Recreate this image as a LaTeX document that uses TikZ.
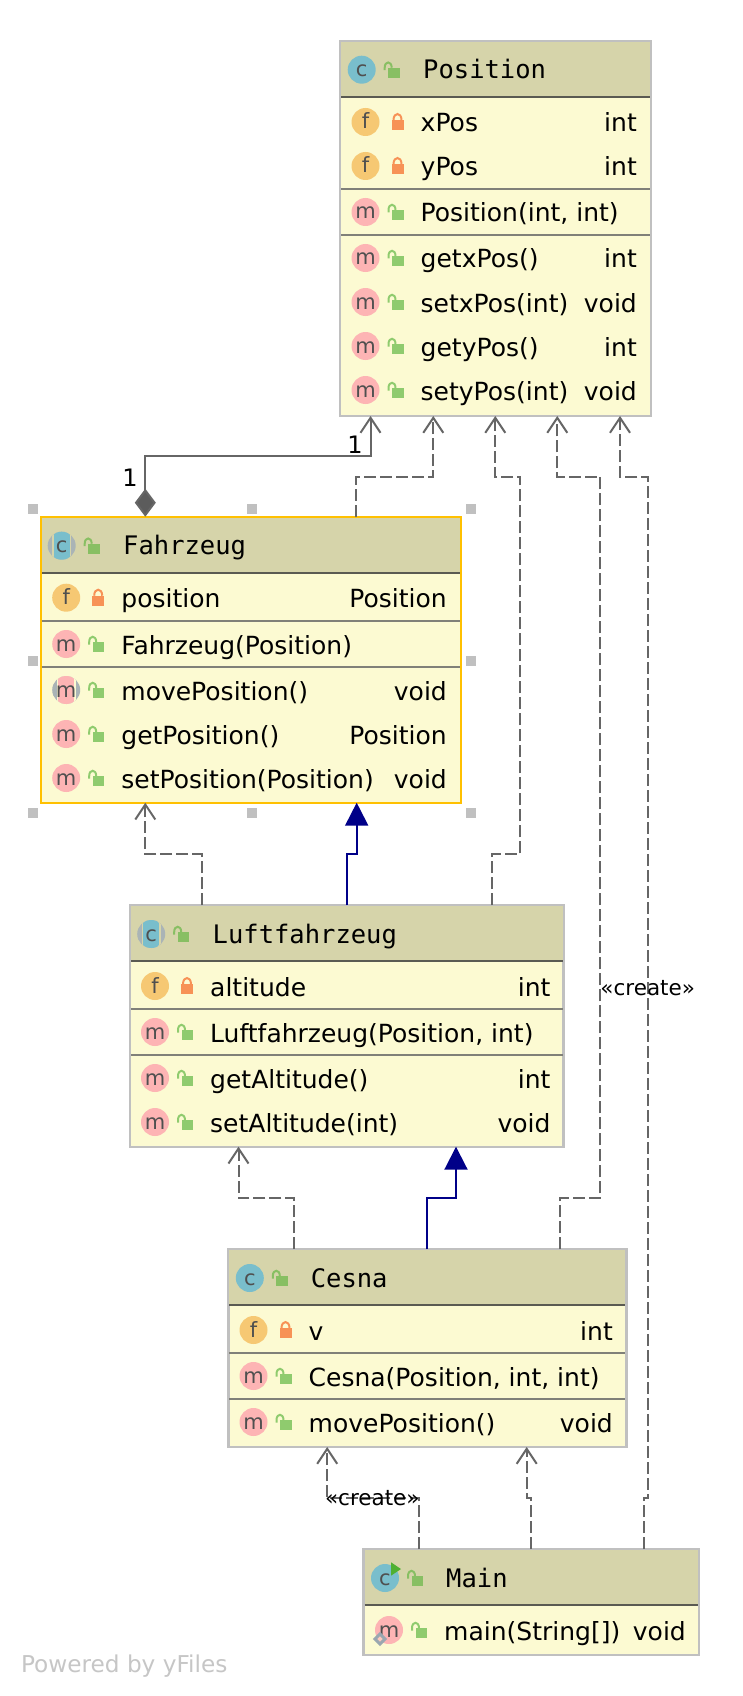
\documentclass[tikz,border=0pt]{standalone}
\usepackage{fontspec}
\usetikzlibrary{arrows.meta}
\setmainfont{DejaVu Sans}
\newfontfamily\hdrfont{DejaVu Sans Mono}
\newfontfamily\icofont{DejaVu Sans}
\definecolor{hdrfill}{HTML}{D6D4AA}
\definecolor{bodyfill}{HTML}{FCFAD2}
\definecolor{boxline}{HTML}{C0C0C0}
\definecolor{selline}{HTML}{FFC000}
\definecolor{hsep}{HTML}{5A5A52}
\definecolor{rsep}{HTML}{808078}
\definecolor{edge}{HTML}{666666}
\definecolor{navyedge}{HTML}{000088}
\definecolor{cicon}{HTML}{79BECC}
\definecolor{ficon}{HTML}{F6C873}
\definecolor{micon}{HTML}{FDB4B4}
\definecolor{absring}{HTML}{AAB4B6}
\definecolor{lockpriv}{HTML}{F79256}
\definecolor{lockpub}{HTML}{8FCB6E}
\definecolor{lockhdr}{HTML}{88BF63}
\definecolor{icotext}{HTML}{4F4F4F}
\definecolor{runtri}{HTML}{4FB032}
\definecolor{statdiam}{HTML}{9AA7B0}
\newcounter{nid}
\newcommand\tnode[3]{\stepcounter{nid}\node[#1] (t\arabic{nid}) at (#2) {#3};}
\tikzset{
  x=1pt,y=-1pt,
  classbox/.style={draw=boxline,line width=2.4pt,fill=bodyfill,rectangle,anchor=north west,inner sep=0pt,outer sep=0pt},
  selbox/.style={classbox,draw=selline},
  hdrtext/.style={anchor=base west,inner sep=0pt,font=\hdrfont\fontsize{25.5}{26}\selectfont,text=black},
  memtext/.style={anchor=base west,inner sep=0pt,font=\fontsize{25}{26}\selectfont,text=black},
  typetext/.style={anchor=base east,inner sep=0pt,font=\fontsize{25}{26}\selectfont,text=black},
  icotxt/.style={inner sep=0pt,text=icotext,font=\icofont\fontsize{21}{21}\selectfont,anchor=base},
  edgelabel/.style={inner sep=0pt,text=black,font=\fontsize{21.5}{22}\selectfont},
  multlabel/.style={inner sep=0pt,text=black,font=\fontsize{24}{26}\selectfont},
  dep/.style={draw=edge,line width=2pt,dash pattern=on 12pt off 4pt,-{Straight Barb[length=15pt,width=20pt,line width=2pt]}},
  comp/.style={draw=edge,line width=2pt,{Diamond[length=28pt,width=21pt,fill=edge!90!black]}-{Straight Barb[length=15pt,width=20pt,line width=2pt]}},
  inherit/.style={draw=navyedge,line width=2pt,-{Triangle[length=23pt,width=23pt,fill=navyedge]}},
}
% icon: x,y,colour,letter
\newcommand\icon[4]{%
  \fill[#3] (#1,#2) circle[radius=14];
  \tnode{icotxt}{#1,#2+7}{#4}}
% abstract icon: x,y,colour,letter,gap colour
\newcommand\absicon[5]{%
  \fill[absring] (#1,#2) circle[radius=14];
  \begin{scope}
    \clip (#1,#2) circle[radius=14];
    \fill[#5] (#1-9.5,#2-15) rectangle (#1+9.5,#2+15);
    \fill[#3] (#1-8,#2-15) rectangle (#1+8,#2+15);
  \end{scope}
  \tnode{icotxt}{#1,#2+7}{#4}}
% locks: icon centre x, y
\newcommand\lockpri[2]{%
  \fill[lockpriv] (#1+26,#2-2) rectangle (#1+38,#2+8);
  \draw[lockpriv,line width=2pt] (#1+28,#2-2) .. controls (#1+28,#2-10) and (#1+36,#2-10) .. (#1+36,#2-2);}
\newcommand\lockpub[3][lockpub]{%
  \fill[#1] (#2+26.5,#3-2) rectangle (#2+38,#3+8);
  \draw[#1,line width=2pt] (#2+23,#3+0.5) -- (#2+23,#3-2) .. controls (#2+23,#3-9) and (#2+30,#3-9) .. (#2+30,#3-2);}
% header band: left, top, bottom, right
\newcommand\hdr[4]{%
  \fill[hdrfill] (#1,#2) rectangle (#4,#3);
  \draw[hsep,line width=2pt] (#1,#3) -- (#4,#3);}
\newcommand\sepline[3]{\draw[rsep,line width=2pt] (#1,#3) -- (#2,#3);}
% member row: left,right,y,name,type
\newcommand\fieldrow[5]{%
  \icon{#1+25.5}{#3}{ficon}{f}\lockpri{#1+25.5}{#3}
  \tnode{memtext}{#1+80.5,#3+10}{#4}
  \tnode{typetext}{#2-14,#3+10}{#5}}
\newcommand\methrow[5]{%
  \icon{#1+25.5}{#3}{micon}{m}\lockpub{#1+25.5}{#3}
  \tnode{memtext}{#1+80.5,#3+10}{#4}
  \tnode{typetext}{#2-14,#3+10}{#5}}
\begin{document}
\begin{tikzpicture}
\useasboundingbox (0,0) rectangle (742,1696);
\fill[white] (0,0) rectangle (742,1696);

% ---------- Position
\node[classbox,minimum width=311pt,minimum height=375pt] (pos) at (340,41) {};
\hdr{341}{42}{96.7}{650}
\sepline{341}{650}{189}\sepline{341}{650}{235}
\icon{361.7}{69.7}{cicon}{c}\lockpub[lockhdr]{361.7}{69.7}
\tnode{hdrtext}{423,78.7}{Position}
\fieldrow{340}{651}{122}{xPos}{int}
\fieldrow{340}{651}{166}{yPos}{int}
\methrow{340}{651}{212}{Position(int, int)}{}
\methrow{340}{651}{258}{getxPos()}{int}
\methrow{340}{651}{302}{setxPos(int)}{void}
\methrow{340}{651}{346}{getyPos()}{int}
\methrow{340}{651}{390}{setyPos(int)}{void}

% ---------- Fahrzeug
\foreach \hx in {33,252,471}{\fill[boxline] (\hx-5,504) rectangle (\hx+5,514);\fill[boxline] (\hx-5,808) rectangle (\hx+5,818);}
\foreach \hx in {33,471}{\fill[boxline] (\hx-5,656) rectangle (\hx+5,666);}
\node[selbox,minimum width=420.5pt,minimum height=286pt] (fz) at (40.7,516.7) {};
\hdr{41.8}{517.8}{572.7}{459.9}
\sepline{41.8}{459.9}{621}\sepline{41.8}{459.9}{667}
\absicon{61.7}{545.7}{cicon}{c}{hdrfill}\lockpub[lockhdr]{61.7}{545.7}
\tnode{hdrtext}{123,554.7}{Fahrzeug}
\fieldrow{40.7}{461}{597.7}{position}{Position}
\methrow{40.7}{461}{644}{Fahrzeug(Position)}{}
\absicon{66.2}{690}{micon}{m}{bodyfill}\lockpub{66.2}{690}
\tnode{memtext}{121.2,700}{movePosition()}
\tnode{typetext}{447,700}{void}
\methrow{40.7}{461}{734}{getPosition()}{Position}
\methrow{40.7}{461}{778}{setPosition(Position)}{void}

% ---------- Luftfahrzeug
\node[classbox,minimum width=433.6pt,minimum height=241.7pt] (lf) at (130,905) {};
\hdr{131}{906}{960.7}{562.6}
\sepline{131}{562.6}{1009}\sepline{131}{562.6}{1055}
\absicon{151.2}{934}{cicon}{c}{hdrfill}\lockpub[lockhdr]{151.2}{934}
\tnode{hdrtext}{212.5,943}{Luftfahrzeug}
\fieldrow{129.5}{564.6}{986}{altitude}{int}
\methrow{129.5}{564.6}{1032}{Luftfahrzeug(Position, int)}{}
\methrow{129.5}{564.6}{1078}{getAltitude()}{int}
\methrow{129.5}{564.6}{1122}{setAltitude(int)}{void}

% ---------- Cesna
\node[classbox,minimum width=398pt,minimum height=198pt] (ce) at (228.4,1249) {};
\hdr{229.4}{1250}{1304.7}{625.4}
\sepline{229.4}{625.4}{1353}\sepline{229.4}{625.4}{1399}
\icon{249.8}{1278}{cicon}{c}\lockpub[lockhdr]{249.8}{1278}
\tnode{hdrtext}{310.6,1287}{Cesna}
\fieldrow{228}{627}{1330}{v}{int}
\methrow{228}{627}{1376}{Cesna(Position, int, int)}{}
\methrow{228}{627}{1422}{movePosition()}{void}

% ---------- Main
\node[classbox,minimum width=335.2pt,minimum height=106pt] (mn) at (363.6,1549) {};
\hdr{364.6}{1550}{1605}{697.8}
\icon{385}{1578}{cicon}{c}\lockpub[lockhdr]{385}{1578}
\fill[runtri] (391,1562.3) -- (401,1569) -- (391,1575.7) -- cycle;
\tnode{hdrtext}{446,1587}{Main}
\methrow{363.5}{700}{1630}{main(String[])}{void}
\draw[statdiam,line width=3pt,fill=micon!70!bodyfill] (380,1634) -- (385,1639) -- (380,1644) -- (375,1639) -- cycle;

% ---------- connectors
\draw[comp] (fz.north -| 145.3,0) |- (370.5,456.3) -- (pos.south -| 370.5,0);
\draw[dep] (fz.north -| 356,0) |- (433.3,476.7) -- (pos.south -| 433.3,0);
\draw[dep] (lf.north -| 492,0) |- (520.4,854.3) |- (495.3,476.7) -- (pos.south -| 495.3,0);
\draw[dep] (ce.north -| 560,0) |- (600.3,1198) |- (557.3,476.7) -- (pos.south -| 557.3,0);
\draw[dep] (mn.north -| 643.5,0) |- (648.3,1498) |- (620,476.7) -- (pos.south -| 620,0);
\draw[dep] (lf.north -| 201.5,0) |- (145.3,854.3) -- (fz.south -| 145.3,0);
\draw[inherit] (lf.north -| 347,0) |- (356.7,854.3) -- (fz.south -| 356.7,0);
\draw[dep] (ce.north -| 294.4,0) |- (238.5,1198) -- (lf.south -| 238.5,0);
\draw[inherit] (ce.north -| 427,0) |- (456,1198) -- (lf.south -| 456,0);
\draw[dep] (mn.north -| 419.4,0) |- (327.2,1498) -- (ce.south -| 327.2,0);
\draw[dep] (mn.north -| 530.5,0) |- (526.7,1498) -- (ce.south -| 526.7,0);

% ---------- labels
\node[multlabel] (m1) at (130,478) {1};
\node[multlabel] (m2) at (355,445) {1};
\node[edgelabel] (lb1) at (647.7,988) {«create»};
\node[edgelabel] (lb2) at (372.3,1498) {«create»};
\node[anchor=base west,inner sep=0pt,text=boxline!90!white,font=\fontsize{23.2}{25}\selectfont] (pw) at (20.8,1672) {Powered by yFiles};
\end{tikzpicture}
\end{document}
